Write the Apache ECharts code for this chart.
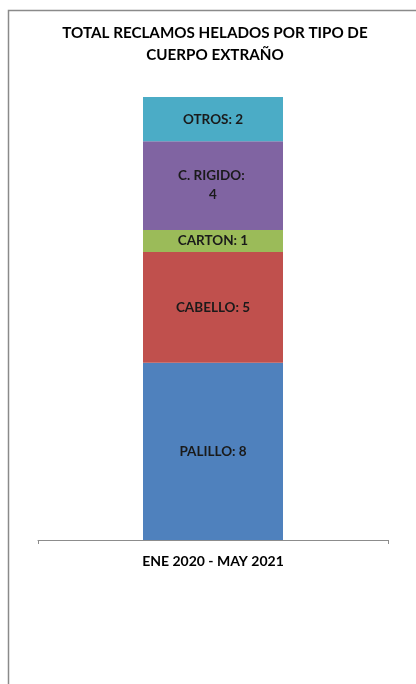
<!DOCTYPE html>
<html>
<head>
<meta charset="utf-8">
<script src="https://cdn.jsdelivr.net/npm/echarts@6/dist/echarts.min.js"></script>
<style>
  html, body { margin: 0; padding: 0; background: #fff; }
  #chart { width: 416px; height: 684px; }
</style>
</head>
<body>
<div id="chart"></div>
<script>
// Period shown on the category axis
const categories = ['ENE 2020 - MAY 2021'];

// Complaint counts per foreign-body type, stacked bottom to top
const seriesNames = ['PALILLO', 'CABELLO', 'CARTON', 'C. RIGIDO', 'OTROS'];
const palillo = [8];
const cabello = [5];
const carton = [1];
const cRigido = [4];
const otros = [2];
const seriesValues = [palillo, cabello, carton, cRigido, otros];

const colors = ['#4F81BD', '#C0504D', '#9BBB59', '#8064A2', '#4BACC6'];
const FONT = 'Lato';

const chart = echarts.init(document.getElementById('chart'), null, { renderer: 'canvas' });

const series = seriesNames.map((name, i) => ({
  name: name,
  type: 'bar',
  stack: 'total',
  barWidth: 140,
  data: seriesValues[i],
  itemStyle: { color: colors[i] },
  label: {
    show: true,
    position: 'inside',
    width: 76,
    overflow: 'break',
    lineHeight: 19,
    formatter: (p) => p.seriesName + ': ' + p.value,
    color: '#1a1a1a',
    fontFamily: FONT,
    fontWeight: 'bold',
    fontSize: 13.5
  }
}));

chart.setOption({
  animation: false,
  backgroundColor: '#ffffff',
  title: {
    text: 'TOTAL RECLAMOS HELADOS POR TIPO DE\nCUERPO EXTRAÑO',
    left: 215,
    textAlign: 'center',
    top: 22,
    padding: 0,
    textStyle: {
      fontFamily: FONT,
      fontWeight: 'bold',
      fontSize: 15.2,
      lineHeight: 22,
      color: '#000'
    }
  },
  graphic: [{
    type: 'rect',
    shape: { x: 8.5, y: 10.5, width: 600, height: 900 },
    style: { fill: null, stroke: '#8a8a8a', lineWidth: 1.5 },
    silent: true
  }],
  grid: { left: 38, right: 28, top: 97, bottom: 144 },
  xAxis: {
    type: 'category',
    data: categories,
    axisLine: { show: true, lineStyle: { color: '#8c8c8c', width: 1 } },
    axisTick: { show: true, length: 4, lineStyle: { color: '#8c8c8c' } },
    axisLabel: {
      margin: 14,
      color: '#000',
      fontFamily: FONT,
      fontWeight: 'bold',
      fontSize: 14
    }
  },
  yAxis: {
    type: 'value',
    min: 0,
    max: 20,
    show: false,
    splitLine: { show: false }
  },
  series: series
});
</script>
</body>
</html>
